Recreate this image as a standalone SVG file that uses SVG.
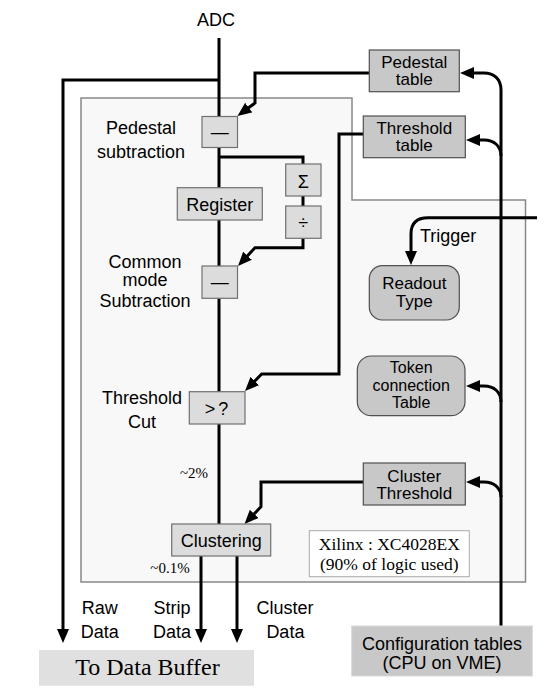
<svg xmlns="http://www.w3.org/2000/svg" width="559" height="700" viewBox="0 0 559 700">
<style>
.t{font-family:"Liberation Sans",Arial,sans-serif;font-size:18px;fill:#000;text-anchor:middle}
.m{font-size:17px}
.n{font-size:16px}
.s{font-family:"Liberation Serif","Times New Roman",serif;fill:#000;text-anchor:middle}
.op{fill:#dcdcdc;stroke:#707070;stroke-width:1.2}
.tb{fill:#c8c8c8;stroke:#505050;stroke-width:1.2}
.c{fill:none;stroke:#000;stroke-width:3}
.a{marker-end:url(#ah)}
</style>
<defs>
<marker id="ah" markerUnits="userSpaceOnUse" markerWidth="15" markerHeight="12" refX="4" refY="6" orient="auto">
<path d="M0,0 L14,6 L0,12 z" fill="#000"/>
</marker>
</defs>
<rect width="559" height="700" fill="#fff"/>
<g id="fpga-panel">
<path d="M81,98 H352 V200 H525.5 V582 H81 Z" fill="#f8f8f8" stroke="#888" stroke-width="1.5"/>
</g>
<text class="t" x="216" y="25.5">ADC</text>
<g id="connectors">
<path class="c" d="M219,38 V524"/>
<path class="c a" d="M219,80 H63 V633"/>
<path class="c a" d="M369,73 H255 V103 L245.5,110"/>
<path class="c" d="M219,157 H303 V164"/>
<path class="c" d="M303,196 V206"/>
<path class="c a" d="M303,238 V247.7 H255 L244.8,258.7"/>
<path class="c a" d="M363,134 H339 V374 H261.7 L252,383.9"/>
<path class="c a" d="M363,482 H261 V506.7 L251.4,516.8"/>
<path class="c a" d="M201,556 V633"/>
<path class="c a" d="M237,556 V633"/>
<path class="c a" d="M537,217.7 H428 Q411,217.7 411,234 V255"/>
<path class="c" d="M501,626 V90"/>
<path class="c a" d="M501,90 C501,79 494,73 484,73 H470"/>
<path class="c a" d="M501,156 C501,146 494,140 484,140 H476"/>
<path class="c a" d="M501,402 C501,392 494,386 484,386 H476"/>
<path class="c a" d="M501,497 C501,488 494,482 484,482 H476"/>
</g>
<g id="pedestal-sub">
<rect class="op" x="202" y="116.5" width="35.5" height="31"/>
<text class="t" x="219.7" y="138">—</text>
<text class="t" x="141" y="134">Pedestal</text>
<text class="t" x="141" y="158">subtraction</text>
</g>
<g id="pedestal-table">
<rect class="tb" x="369.3" y="50" width="90" height="41.7"/>
<text class="t m" x="414.3" y="67.5">Pedestal</text>
<text class="t m" x="414.3" y="85">table</text>
</g>
<g id="threshold-table">
<rect class="tb" x="363.3" y="116" width="102" height="41.7"/>
<text class="t m" x="414.3" y="133.5">Threshold</text>
<text class="t m" x="414.3" y="151">table</text>
</g>
<g id="sum">
<rect class="op" x="285.7" y="164" width="35.3" height="32"/>
<text class="t" x="303.3" y="188">Σ</text>
</g>
<g id="divide">
<rect class="op" x="285.7" y="206" width="35.3" height="32.3"/>
<text class="t" x="303.3" y="229">÷</text>
</g>
<g id="register">
<rect class="op" x="177.3" y="187.7" width="85" height="32.3"/>
<text class="t" x="219.8" y="210.5">Register</text>
</g>
<g id="cm-sub">
<rect class="op" x="202" y="266" width="35.5" height="32.3"/>
<text class="t" x="219.7" y="288">—</text>
<text class="t" x="145" y="267.7">Common</text>
<text class="t" x="145" y="286">mode</text>
<text class="t" x="145" y="306.7">Subtraction</text>
</g>
<g id="threshold-cut">
<rect class="op" x="189.3" y="391.7" width="55.7" height="32.3"/>
<text class="t" x="218" y="415" font-size="20" letter-spacing="3">&gt;?</text>
<text class="t" x="142" y="404">Threshold</text>
<text class="t" x="142" y="427.7">Cut</text>
</g>
<g id="readout-type">
<text class="t" x="420" y="242" style="text-anchor:start">Trigger</text>
<rect class="tb" x="369.3" y="265.7" width="90" height="54.3" rx="13"/>
<text class="t m" x="414.3" y="289">Readout</text>
<text class="t m" x="414.3" y="307">Type</text>
</g>
<g id="token-table">
<rect class="tb" x="357.3" y="356" width="107.7" height="59.7" rx="14"/>
<text class="t n" x="411.2" y="373">Token</text>
<text class="t n" x="411.2" y="390.5">connection</text>
<text class="t n" x="411.2" y="408">Table</text>
</g>
<g id="cluster-threshold">
<rect class="tb" x="363.3" y="463" width="102" height="42"/>
<text class="t m" x="414.3" y="481.5">Cluster</text>
<text class="t m" x="414.3" y="499">Threshold</text>
</g>
<text class="s" x="194" y="478" font-size="15">~2%</text>
<g id="clustering">
<rect class="op" x="171.7" y="524" width="99" height="32"/>
<text class="t" x="221.2" y="547">Clustering</text>
</g>
<text class="s" x="170" y="573" font-size="15">~0.1%</text>
<g id="xilinx">
<rect x="309.3" y="530.7" width="160" height="46" fill="#fff" stroke="#aaa" stroke-width="1"/>
<text class="s" x="389.3" y="550" font-size="17.5">Xilinx : XC4028EX</text>
<text class="s" x="389.3" y="569.5" font-size="17.5">(90% of logic used)</text>
</g>
<g id="labels">
<text class="t" x="99.7" y="614">Raw</text>
<text class="t" x="99.7" y="638">Data</text>
<text class="t" x="172" y="614">Strip</text>
<text class="t" x="172" y="638">Data</text>
<text class="t" x="285" y="614">Cluster</text>
<text class="t" x="285.4" y="638">Data</text>
</g>
<g id="data-buffer">
<rect x="39" y="650" width="215" height="35.7" fill="#e0e0e0"/>
<text class="s" x="147.5" y="675" font-size="24">To Data Buffer</text>
</g>
<g id="config-tables">
<rect x="351.7" y="626" width="180.6" height="50" fill="#c8c8c8" stroke="#d8d8d8" stroke-width="1"/>
<text class="t" x="442" y="650">Configuration tables</text>
<text class="t" x="442" y="668.5">(CPU on VME)</text>
</g>
</svg>
